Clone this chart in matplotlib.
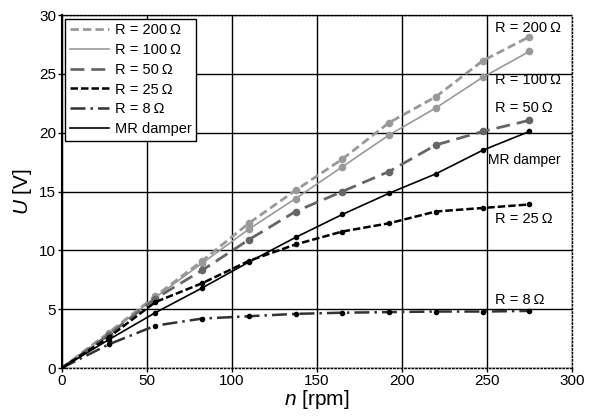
import matplotlib.pyplot as plt

plt.rcParams['font.family'] = ['Liberation Sans', 'DejaVu Sans']
plt.rcParams['mathtext.fontset'] = 'custom'
plt.rcParams['mathtext.it'] = 'Liberation Sans:italic'
plt.rcParams['mathtext.rm'] = 'Liberation Sans'

n_rpm = [0, 27.5, 55, 82.5, 110, 137.5, 165, 192.5, 220, 247.5, 275]

u_r200 = [0, 3.0, 6.1, 9.1, 12.3, 15.1, 17.75, 20.85, 23.05, 26.1, 28.15]
u_r100 = [0, 2.9, 6.0, 8.9, 11.8, 14.4, 17.1, 19.8, 22.1, 24.7, 26.9]
u_r50 = [0, 2.8, 5.9, 8.3, 10.9, 13.3, 15.0, 16.7, 18.95, 20.1, 21.05]
u_r25 = [0, 2.6, 5.6, 7.2, 9.1, 10.5, 11.6, 12.3, 13.3, 13.6, 13.9]
u_r8 = [0, 2.0, 3.6, 4.2, 4.4, 4.6, 4.7, 4.75, 4.8, 4.8, 4.85]
u_mr = [0, 2.4, 4.7, 6.8, 9.0, 11.1, 13.05, 14.85, 16.5, 18.5, 20.1]

fig = plt.figure(figsize=(6, 4.17), dpi=100)
ax = fig.add_axes([0.103, 0.1175, 0.85, 0.8465])

ax.plot(n_rpm, u_r200, color="#999999", ls=(0, (3, 1.5)), lw=2, marker="o", ms=4.5, label="R = 200\u2009Ω")
ax.plot(n_rpm, u_r100, color="#999999", ls="-", lw=1.2, marker="o", ms=4.5, label="R = 100\u2009Ω")
ax.plot(n_rpm, u_r50, color="#666666", ls=(0, (5, 2.5)), lw=2, marker="o", ms=4.5, label="R = 50\u2009Ω")
ax.plot(n_rpm, u_r25, color="black", ls=(0, (3, 1.2)), lw=1.8, marker="o", ms=3, label="R = 25\u2009Ω")
ax.plot(n_rpm, u_r8, color="#333333", ls=(0, (6, 2, 1, 2)), lw=1.8, marker="o", ms=3, mfc="black", mec="black", label="R = 8\u2009Ω")
ax.plot(n_rpm, u_mr, color="black", ls="-", lw=1.2, marker="o", ms=3, label="MR damper")

# labels at the line ends
ax.text(255, 28.9, "R = 200\u2009Ω", fontsize=10.5, va="center")
ax.text(255, 24.5, "R = 100\u2009Ω", fontsize=10.5, va="center")
ax.text(255, 22.1, "R = 50\u2009Ω", fontsize=10.5, va="center")
ax.text(251, 17.7, "MR damper", fontsize=10, va="center")
ax.text(255, 12.7, "R = 25\u2009Ω", fontsize=10.5, va="center")
ax.text(255, 5.8, "R = 8\u2009Ω", fontsize=10.5, va="center")

ax.set_xlim(0, 300)
ax.set_ylim(0, 30)
ax.set_xticks(range(0, 301, 50))
ax.set_yticks(range(0, 31, 5))
ax.grid(True, color="black", lw=1)
ax.tick_params(labelsize=11, length=3, width=1, pad=1)

for side in ["top", "right", "bottom"]:
    ax.spines[side].set_linestyle(":")
    ax.spines[side].set_linewidth(1)
ax.spines["left"].set_linewidth(1.5)

ax.set_xlabel("$n$ [rpm]", fontsize=15, labelpad=0)
ax.set_ylabel("$U$ [V]", fontsize=15, labelpad=4)

leg = ax.legend(loc="upper left", fontsize=10.5, handlelength=2.7, handletextpad=0.4,
                borderpad=0.3, labelspacing=0.4, fancybox=False, borderaxespad=0.25,
                framealpha=1)
leg.get_frame().set_edgecolor("black")
leg.get_frame().set_linewidth(1)
for h in leg.legend_handles:
    h.set_marker("")

plt.savefig("out.png")
